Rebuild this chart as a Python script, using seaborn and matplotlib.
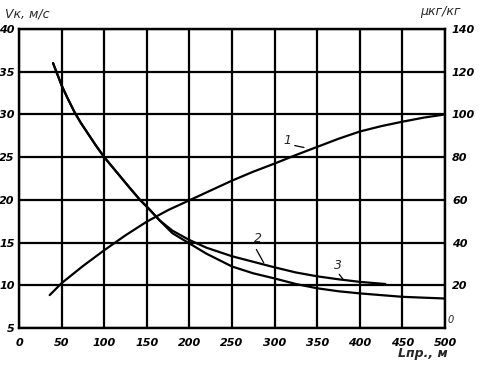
import matplotlib
matplotlib.use("Agg")
import matplotlib.pyplot as plt
import seaborn as sns
import numpy as np
import pandas as pd

# ---- data ----
x_common = [40, 45, 50, 57, 65, 72, 80, 90, 100, 110, 120, 130, 142, 152, 165]
v_common = [36.0, 34.7, 33.4, 31.9, 30.3, 29.1, 27.9, 26.4, 25.0, 23.8, 22.6, 21.4, 20.0, 19.0, 17.6]

x_curve2 = [180, 200, 220, 250, 275, 300, 325, 350, 375, 400, 430]
v_curve2 = [16.4, 15.3, 14.4, 13.4, 12.75, 12.1, 11.5, 11.05, 10.7, 10.4, 10.15]

x_curve3 = [180, 200, 220, 250, 275, 300, 325, 350, 375, 400, 425, 450, 475, 500]
v_curve3 = [16.1, 14.9, 13.7, 12.2, 11.4, 10.8, 10.15, 9.65, 9.3, 9.05, 8.85, 8.65, 8.55, 8.45]

x_curve1 = [36, 50, 75, 100, 125, 150, 175, 200, 225, 250, 275, 300, 325, 350, 375, 400, 425, 450, 475, 500]
mu_curve1 = [15.4, 21.0, 29.0, 36.4, 43.4, 49.8, 55.2, 59.8, 64.4, 69.0, 73.2, 77.0, 81.0, 84.8, 88.6, 92.0, 94.5, 96.6, 98.5, 100.0]

x_ticks = [0, 50, 100, 150, 200, 250, 300, 350, 400, 450, 500]
v_ticks = [5, 10, 15, 20, 25, 30, 35, 40]
mu_ticks = [20, 40, 60, 80, 100, 120, 140]

sns.set_style("white")
plt.rcParams['font.family'] = ['DejaVu Sans']

fig = plt.figure(figsize=(4.86, 3.66), dpi=100)
ax = fig.add_axes([19/486, 1-328/366, (445-19)/486, (328-29)/366])
ax2 = ax.twinx()

df2 = pd.DataFrame({"x": x_common + x_curve2, "v": v_common + v_curve2})
df3 = pd.DataFrame({"x": x_common + x_curve3, "v": v_common + v_curve3})
df1 = pd.DataFrame({"x": x_curve1, "mu": mu_curve1})

lw = 1.6
sns.lineplot(data=df2, x="x", y="v", ax=ax, color="black", lw=lw, sort=False, estimator=None)
sns.lineplot(data=df3, x="x", y="v", ax=ax, color="black", lw=lw, sort=False, estimator=None)
sns.lineplot(data=df1, x="x", y="mu", ax=ax2, color="black", lw=lw, sort=False, estimator=None)

ax.set_xlim(0, 500)
ax.set_ylim(5, 40)
ax2.set_ylim(0, 140)

ax.set_xticks(x_ticks)
ax.set_yticks(v_ticks)
ax2.set_yticks(mu_ticks)
ax.grid(True, color="black", lw=1.6)
ax.set_axisbelow(True)
for a in (ax, ax2):
    for s in a.spines.values():
        s.set_color("black")
        s.set_linewidth(1.6)
    a.tick_params(length=0)
    a.set_xlabel("")
    a.set_ylabel("")

fs = 8
tstyle = dict(fontsize=fs, style="italic", fontweight="bold", color="black")
ax.set_xticklabels([str(t) for t in x_ticks], **tstyle)
ax.tick_params(axis="x", pad=7)
ax.set_yticklabels([str(t) for t in v_ticks], **tstyle)
ax.tick_params(axis="y", pad=3)
ax2.set_yticklabels([str(t) for t in mu_ticks], **tstyle)
ax2.tick_params(axis="y", pad=5)

# extra right "0"
ax2.text(1.005, 0.01, "0", transform=ax2.transAxes, fontsize=7, style="italic", ha="left", va="bottom")

# axis titles
fig.text(5/486, 1-14/366, "Vк, м/с", fontsize=9, style="italic", ha="left", va="center")
fig.text(420/486, 1-12/366, "μкг/кг", fontsize=9, style="italic", ha="left", va="center")
fig.text(398/486, 1-354/366, "Lпр., м", fontsize=9, style="italic", fontweight="bold", ha="left", va="center")


def px(xp, yp):
    return (xp - 19) / 0.852, 40 - (yp - 29) / 8.54


def label(txt, pos, a, b):
    ax.text(*px(*pos), txt, fontsize=9, style="italic", ha="center", va="center")
    ax.annotate("", xy=px(*b), xytext=px(*a),
                arrowprops=dict(arrowstyle="-", color="black", lw=0.9))


label("1", (287, 140), (292, 145), (306.7, 148))
label("2", (258, 238), (255, 247), (265, 265))
label("3", (338, 265), (337.5, 272), (345, 281.7))

fig.savefig("out.png", dpi=100)
